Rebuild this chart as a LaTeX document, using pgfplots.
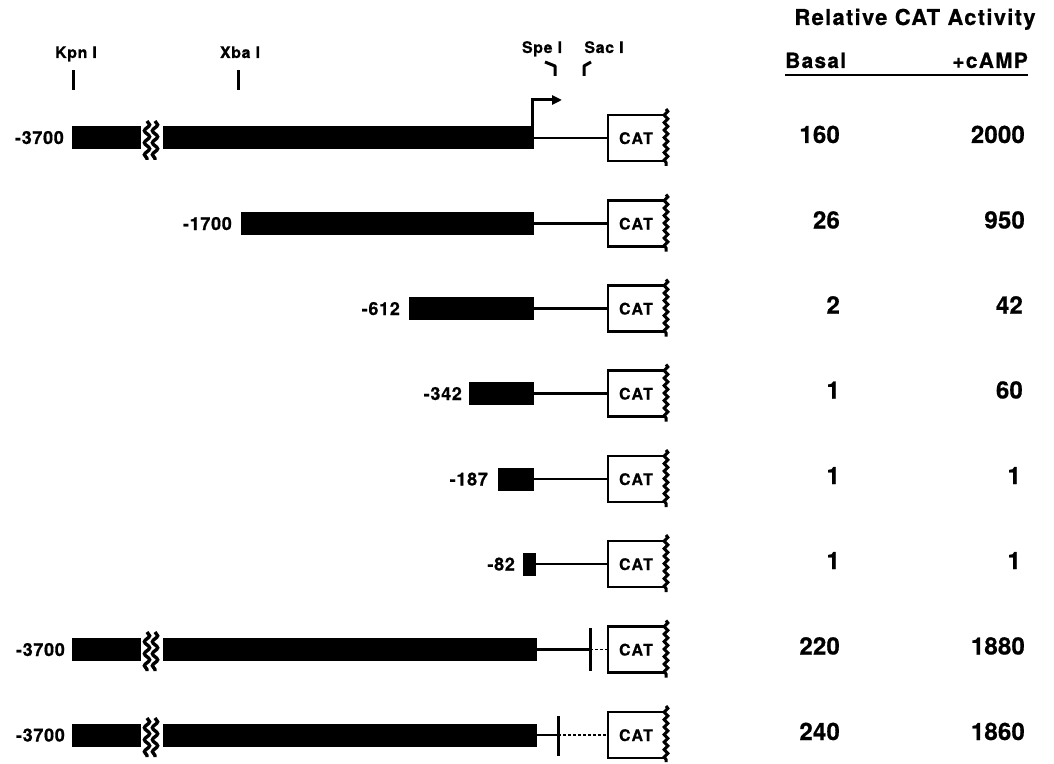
\documentclass[border=0pt]{standalone}
\usepackage{fontspec}
\setmainfont{TeX Gyre Heros}
\newfontfamily\lblfont[LetterSpace=4, BoldFeatures={FakeBold=0.6}]{TeX Gyre Heros}
\newfontfamily\catfont[LetterSpace=9, BoldFeatures={FakeBold=0.6}]{TeX Gyre Heros}
\newfontfamily\hdfont[LetterSpace=6, BoldFeatures={FakeBold=0.6}]{TeX Gyre Heros}
\newfontfamily\numfont[LetterSpace=1, BoldFeatures={FakeBold=0.6}]{TeX Gyre Heros}
\usepackage{pgfplots}
\pgfplotsset{compat=1.18}
\usetikzlibrary{decorations.pathmorphing,arrows.meta}
\tikzset{
  bar/.style={black, line width=23bp, line cap=butt},
  ln/.style={black, line width=2.8bp},
  sq/.style={black, line width=3.4bp, decorate, decoration={snake, amplitude=2.6bp, segment length=12bp}},
  edge/.style={black, line width=3bp, decorate, decoration={snake, amplitude=1.8bp, segment length=7.5bp}},
  box/.style={black, line width=2.6bp},
  tk/.style={black, line width=3bp},
  lbl/.style={font=\lblfont\bfseries\fontsize{18}{18}\selectfont, anchor=base east, inner sep=0pt},
  num/.style={font=\numfont\bfseries\fontsize{24}{24}\selectfont, anchor=base east, inner sep=0pt},
  cat/.style={font=\catfont\bfseries\fontsize{16}{16}\selectfont, anchor=base, inner sep=0pt},
  site/.style={font=\lblfont\bfseries\fontsize{16}{16}\selectfont, anchor=base, inner sep=0pt},
}
\begin{document}
\begin{tikzpicture}
\begin{axis}[scale only axis, width=1054bp, height=763bp,
  xmin=0, xmax=1054, ymin=0, ymax=763, y dir=reverse, hide axis, clip=false,
  every axis plot/.append style={no marks}]
\addplot[draw=none] coordinates {(0,0) (1054,763)};
% restriction sites
\addplot[tk] coordinates {(73,70) (73,90)};
\addplot[tk] coordinates {(238,70) (238,90)};
\addplot[tk, line join=round] coordinates {(545,62) (555,66) (555,76)};
\addplot[tk, line join=round] coordinates {(591,62) (584,66) (584,76)};
\node[site] at (axis cs:76,58) {Kpn I};
\node[site] at (axis cs:240,58) {Xba I};
\node[site] at (axis cs:542,53) {Spe I};
\node[site] at (axis cs:604,53) {Sac I};
% transcription start arrow
\addplot[tk, -{Triangle[length=10bp,width=9bp]}] coordinates {(532,126) (532,100) (562,100)};
% header
\node[font=\hdfont\bfseries\fontsize{22}{22}\selectfont, anchor=base, inner sep=0pt] at (axis cs:915,25) {Relative CAT Activity};
\node[font=\hdfont\bfseries\fontsize{21}{21}\selectfont, anchor=base west, inner sep=0pt] at (axis cs:785,68) {Basal};
\node[font=\hdfont\bfseries\fontsize{21}{21}\selectfont, anchor=base east, inner sep=0pt] at (axis cs:1028,68) {+cAMP};
\addplot[black, line width=2.4bp] coordinates {(785,75) (1028,75)};
% row 1 : -3700
\addplot[bar] coordinates {(72,138) (141,138)};
\addplot[sq] coordinates {(147,121) (147,160)};
\addplot[sq] coordinates {(155,121) (155,160)};
\addplot[bar] coordinates {(163,138) (534,138)};
\addplot[ln] coordinates {(534,138) (608,138)};
\node[lbl] at (axis cs:64,144) {-3700};
% row 2 : -1700
\addplot[bar] coordinates {(241,223.5) (534,223.5)};
\addplot[ln] coordinates {(534,223.5) (608,223.5)};
\node[lbl] at (axis cs:232,230) {-1700};
% row 3 : -612
\addplot[bar] coordinates {(409,308.5) (534,308.5)};
\addplot[ln] coordinates {(534,308.5) (608,308.5)};
\node[lbl] at (axis cs:400,315) {-612};
% row 4 : -342
\addplot[bar] coordinates {(469,393.5) (534,393.5)};
\addplot[ln] coordinates {(534,393.5) (608,393.5)};
\node[lbl] at (axis cs:462,400) {-342};
% row 5 : -187
\addplot[bar] coordinates {(498,479) (534,479)};
\addplot[ln] coordinates {(534,479) (608,479)};
\node[lbl] at (axis cs:488,485.5) {-187};
% row 6 : -82
\addplot[bar] coordinates {(523,564) (536,564)};
\addplot[ln] coordinates {(536,564) (608,564)};
\node[lbl] at (axis cs:515,570.5) {-82};
% row 7 : -3700, Spe I mutated
\addplot[bar] coordinates {(72,649.5) (141,649.5)};
\addplot[sq] coordinates {(147,632) (147,671)};
\addplot[sq] coordinates {(155,632) (155,671)};
\addplot[bar] coordinates {(163,649.5) (537,649.5)};
\addplot[ln] coordinates {(537,649.5) (590,649.5)};
\addplot[tk] coordinates {(590,628) (590,671)};
\addplot[black, line width=1.4bp, dash pattern=on 3bp off 2bp] coordinates {(590,649.5) (608,649.5)};
\node[lbl] at (axis cs:65,656) {-3700};
% row 8 : -3700, Sac I mutated
\addplot[bar] coordinates {(72,735) (141,735)};
\addplot[sq] coordinates {(147,718) (147,757)};
\addplot[sq] coordinates {(155,718) (155,757)};
\addplot[bar] coordinates {(163,735) (537,735)};
\addplot[ln] coordinates {(537,735) (558,735)};
\addplot[tk] coordinates {(558,716) (558,756)};
\addplot[black, line width=1.4bp, dash pattern=on 3bp off 2bp] coordinates {(558,735) (608,735)};
\node[lbl] at (axis cs:65,741.5) {-3700};
% CAT boxes
\addplot[box] coordinates {(666,115) (608,115) (608,161) (666,161)};
\addplot[edge] coordinates {(666,109) (666,166)};
\node[cat] at (axis cs:636,144) {CAT};
\addplot[box] coordinates {(666,200.5) (608,200.5) (608,246.5) (666,246.5)};
\addplot[edge] coordinates {(666,194.5) (666,251.5)};
\node[cat] at (axis cs:636,229.5) {CAT};
\addplot[box] coordinates {(666,285.5) (608,285.5) (608,331.5) (666,331.5)};
\addplot[edge] coordinates {(666,279.5) (666,336.5)};
\node[cat] at (axis cs:636,314.5) {CAT};
\addplot[box] coordinates {(666,370.5) (608,370.5) (608,416.5) (666,416.5)};
\addplot[edge] coordinates {(666,364.5) (666,421.5)};
\node[cat] at (axis cs:636,399.5) {CAT};
\addplot[box] coordinates {(666,456) (608,456) (608,502) (666,502)};
\addplot[edge] coordinates {(666,450) (666,507)};
\node[cat] at (axis cs:636,485) {CAT};
\addplot[box] coordinates {(666,541) (608,541) (608,587) (666,587)};
\addplot[edge] coordinates {(666,535) (666,592)};
\node[cat] at (axis cs:636,570) {CAT};
\addplot[box] coordinates {(666,626.5) (608,626.5) (608,672.5) (666,672.5)};
\addplot[edge] coordinates {(666,620.5) (666,677.5)};
\node[cat] at (axis cs:636,655.5) {CAT};
\addplot[box] coordinates {(666,712) (608,712) (608,758) (666,758)};
\addplot[edge] coordinates {(666,706) (666,762)};
\node[cat] at (axis cs:636,741) {CAT};
% relative CAT activity values
\node[num] at (axis cs:840,143) {160};
\node[num] at (axis cs:1025,143) {2000};
\node[num] at (axis cs:840,228.5) {26};
\node[num] at (axis cs:1025,228.5) {950};
\node[num] at (axis cs:840,313.5) {2};
\node[num] at (axis cs:1023,313.5) {42};
\node[num] at (axis cs:840,398.5) {1};
\node[num] at (axis cs:1023,398.5) {60};
\node[num] at (axis cs:840,484) {1};
\node[num] at (axis cs:1021,484) {1};
\node[num] at (axis cs:840,569) {1};
\node[num] at (axis cs:1021,569) {1};
\node[num] at (axis cs:840,654.5) {220};
\node[num] at (axis cs:1025,654.5) {1880};
\node[num] at (axis cs:840,740) {240};
\node[num] at (axis cs:1025,740) {1860};
\end{axis}
\end{tikzpicture}
\end{document}
